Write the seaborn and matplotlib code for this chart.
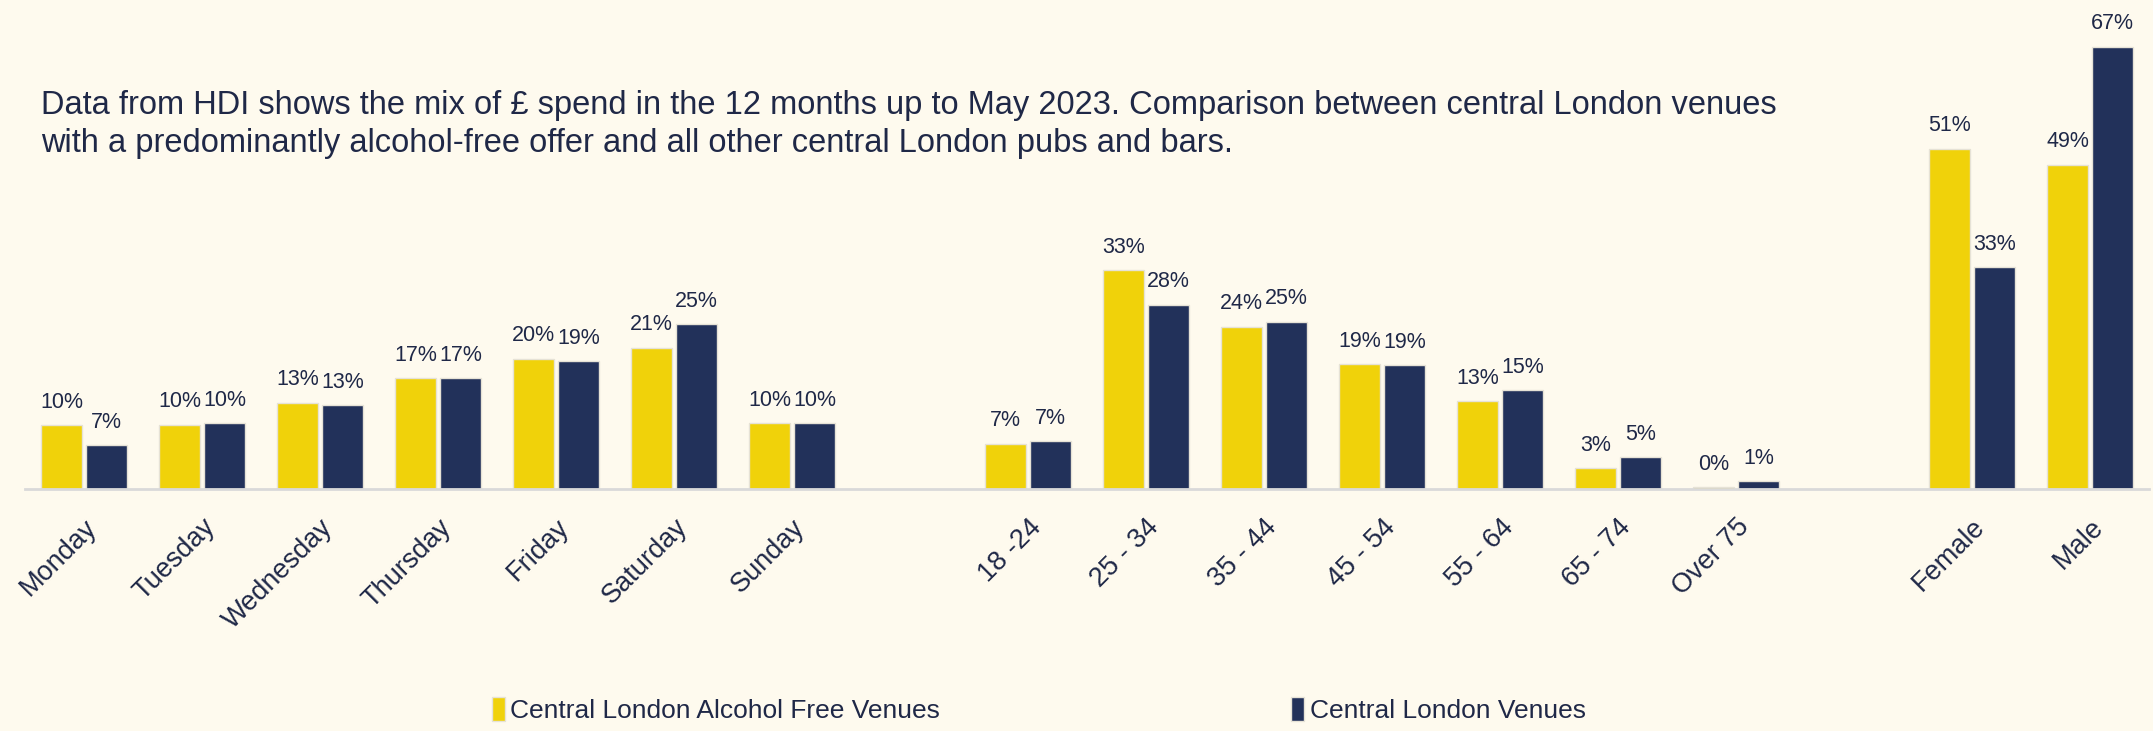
import numpy as np
import pandas as pd
import matplotlib
matplotlib.use("Agg")
import matplotlib.pyplot as plt
import seaborn as sns

# share of spend (%)
days = ["Monday", "Tuesday", "Wednesday", "Thursday", "Friday", "Saturday", "Sunday"]
ages = ["18 -24", "25 - 34", "35 - 44", "45 - 54", "55 - 64", "65 - 74", "Over 75"]
genders = ["Female", "Male"]

alc_free_days = [9.6, 9.7, 13.0, 16.7, 19.6, 21.3, 9.9]
all_venues_days = [6.6, 9.9, 12.6, 16.7, 19.2, 24.8, 9.9]
alc_free_ages = [6.8, 32.9, 24.4, 18.8, 13.2, 3.1, 0.3]
all_venues_ages = [7.2, 27.7, 25.2, 18.6, 14.9, 4.8, 1.2]
alc_free_gender = [51.2, 48.8]
all_venues_gender = [33.4, 66.6]

series_names = ["Central London Alcohol Free Venues", "Central London Venues"]

YELLOW = "#F0D20A"
NAVY = "#22315A"
TEXT = "#1F2847"
BG = "#FEFAEE"

cats = days + ages + genders
df = pd.concat([
    pd.DataFrame({"category": cats, "venue": series_names[0],
                  "share": alc_free_days + alc_free_ages + alc_free_gender}),
    pd.DataFrame({"category": cats, "venue": series_names[1],
                  "share": all_venues_days + all_venues_ages + all_venues_gender}),
])
# blank slots separate the three groups
order = days + [""] + ages + [" "] + genders

sns.set_style("white")
plt.rcParams["font.family"] = ["Liberation Sans", "DejaVu Sans"]

fig = plt.figure(figsize=(21.53, 7.31), dpi=100, facecolor=BG)
ax = fig.add_axes([25 / 2153, 242 / 731, 2124 / 2153, 465 / 731])
ax.set_facecolor(BG)

sns.barplot(data=df, x="category", y="share", hue="venue", order=order,
            hue_order=series_names, palette=[YELLOW, NAVY], saturation=1,
            width=0.76, gap=0.08, edgecolor="#E6E2D6", linewidth=1,
            ax=ax, legend=True)

for cont in ax.containers:
    ax.bar_label(cont, fmt="{:.0f}%", padding=9, fontsize=15.5, color=TEXT)

ax.set_xlim(-0.5, len(order) - 0.5)
ax.set_ylim(0, 70)
ax.set_xlabel("")
ax.set_ylabel("")
ax.set_yticks([])
for s in ["top", "left", "right"]:
    ax.spines[s].set_visible(False)
ax.spines["bottom"].set_color("#D9D9D9")
ax.spines["bottom"].set_linewidth(2)
ax.tick_params(axis="x", length=0, pad=18)
plt.setp(ax.get_xticklabels(), rotation=45, ha="right", rotation_mode="anchor",
         fontsize=19.5, color=TEXT)

handles, labels = ax.get_legend_handles_labels()
ax.get_legend().remove()
fig.legend(handles, labels, loc="lower left", bbox_to_anchor=(468 / 2153, -0.022),
           ncol=2, frameon=False, fontsize=19, handlelength=0.5, handleheight=1.0,
           handletextpad=0.2, columnspacing=13.3, labelcolor=TEXT)

fig.text(41 / 2153, 1 - 90 / 731,
         "Data from HDI shows the mix of £ spend in the 12 months up to May 2023. "
         "Comparison between central London venues\n"
         "with a predominantly alcohol-free offer and all other central London pubs and bars.",
         fontsize=23.5, color=TEXT, va="top", ha="left", linespacing=1.3)

fig.savefig("out.png", dpi=100, facecolor=BG)
